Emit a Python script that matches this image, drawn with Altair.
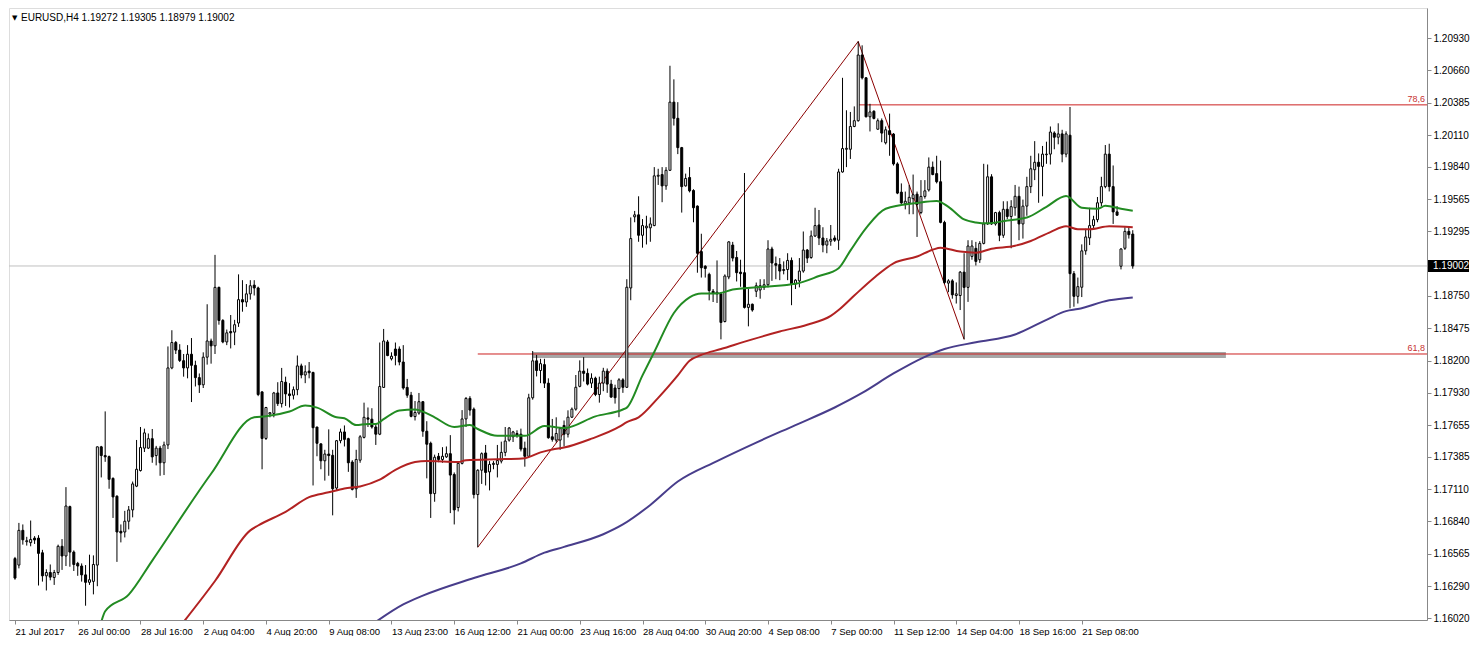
import altair as alt
import pandas as pd

# ---------------- data (EURUSD H4) ----------------
opens = [
    1.16525, 1.16470, 1.16764, 1.16668, 1.16660, 1.16698, 1.16698, 1.16574, 1.16379, 1.16407,
    1.16365, 1.16407, 1.16629, 1.16547, 1.16965, 1.16580, 1.16484, 1.16462, 1.16387, 1.16324,
    1.16332, 1.16470, 1.17471, 1.17397, 1.17388, 1.17204, 1.17053, 1.16756, 1.16750, 1.16841,
    1.16937, 1.17138, 1.17270, 1.17460, 1.17460, 1.17540, 1.17397, 1.17460, 1.17336, 1.17487,
    1.18139, 1.18354, 1.18290, 1.18200, 1.18139, 1.18255, 1.18161, 1.18057, 1.17996, 1.18230,
    1.18367, 1.18326, 1.18821, 1.18541, 1.18359, 1.18447, 1.18442, 1.18519, 1.18717, 1.18697,
    1.18766, 1.18840, 1.18816, 1.17936, 1.17542, 1.17749, 1.17754, 1.17927, 1.17837, 1.18018,
    1.17919, 1.17908, 1.17955, 1.18156, 1.18079, 1.18112, 1.18101, 1.17639, 1.17496, 1.17353,
    1.17410, 1.17399, 1.17122, 1.17523, 1.17597, 1.17540, 1.17342, 1.17116, 1.17358, 1.17551,
    1.17716, 1.17705, 1.17639, 1.17578, 1.17974, 1.18359, 1.18216, 1.18299, 1.18299, 1.18189,
    1.17974, 1.17908, 1.17727, 1.17757, 1.17853, 1.17603, 1.17501, 1.17075, 1.17391, 1.17364,
    1.17386, 1.17413, 1.17237, 1.16957, 1.17331, 1.17707, 1.17881, 1.17790, 1.17067, 1.17273,
    1.17419, 1.17259, 1.17322, 1.17322, 1.17350, 1.17424, 1.17528, 1.17556, 1.17584, 1.17578,
    1.17460, 1.17391, 1.17886, 1.18199, 1.18117, 1.18167, 1.18010, 1.17556, 1.17528, 1.17528,
    1.17652, 1.17578, 1.17722, 1.17790, 1.17983, 1.18112, 1.18093, 1.18010, 1.18052, 1.17914,
    1.18010, 1.18112, 1.18002, 1.17969, 1.17964, 1.18038, 1.17975, 1.18816, 1.19418, 1.19435,
    1.19262, 1.19325, 1.19325, 1.19344, 1.19762, 1.19776, 1.19680, 1.19812, 1.20389, 1.20252,
    1.20004, 1.19680, 1.19751, 1.19641, 1.19509, 1.19124, 1.19000, 1.18931, 1.18788, 1.18766,
    1.18766, 1.18532, 1.18909, 1.19179, 1.19074, 1.18950, 1.18945, 1.18651, 1.18678, 1.18788,
    1.18799, 1.18821, 1.18843, 1.19146, 1.19022, 1.19014, 1.18964, 1.18972, 1.19049, 1.18849,
    1.18876, 1.18959, 1.19137, 1.19074, 1.19256, 1.19349, 1.19239, 1.19179, 1.19212, 1.19239,
    1.19220, 1.19798, 1.19990, 1.19990, 1.20183, 1.20232, 1.20788, 1.20595, 1.20265, 1.20312,
    1.20160, 1.20232, 1.20045, 1.20147, 1.20119, 1.19866, 1.19627, 1.19528, 1.19536, 1.19572,
    1.19610, 1.19454, 1.19591, 1.19646, 1.19839, 1.19784, 1.19715, 1.19371, 1.18857, 1.18876,
    1.18752, 1.18752, 1.18950, 1.18821, 1.19083, 1.19151, 1.19055, 1.19193, 1.19358, 1.19757,
    1.19358, 1.19454, 1.19262, 1.19482, 1.19421, 1.19495, 1.19592, 1.19358, 1.19509, 1.19674,
    1.19817, 1.19880, 1.19845, 1.19944, 1.19949, 1.20128, 1.20092, 1.20120, 1.19949, 1.20109,
    1.18937, 1.18745, 1.18822, 1.19130, 1.19240, 1.19344, 1.19394, 1.19537, 1.19674, 1.19949,
    1.19674, 1.19460, 1.19000, 1.19152, 1.19295, 1.19272,
]
highs = [
    1.16539, 1.16827, 1.16814, 1.16709, 1.16847, 1.16715, 1.16723, 1.16599, 1.16434, 1.16475,
    1.16429, 1.16643, 1.16690, 1.17130, 1.16973, 1.16594, 1.16497, 1.16484, 1.16470, 1.16558,
    1.16552, 1.17474, 1.17479, 1.17771, 1.17397, 1.17212, 1.17061, 1.16814, 1.16929, 1.16970,
    1.17177, 1.17529, 1.17639, 1.17625, 1.17584, 1.17622, 1.17479, 1.17479, 1.17515, 1.18321,
    1.18458, 1.18367, 1.18340, 1.18257, 1.18332, 1.18392, 1.18200, 1.18092, 1.18271, 1.18678,
    1.18387, 1.19096, 1.18827, 1.18552, 1.18464, 1.18587, 1.18546, 1.18931, 1.18882, 1.18849,
    1.18882, 1.18882, 1.18827, 1.17941, 1.17809, 1.17762, 1.17936, 1.18018, 1.18139, 1.18065,
    1.18010, 1.17982, 1.18244, 1.18175, 1.18161, 1.18189, 1.18106, 1.17639, 1.17501, 1.17446,
    1.17619, 1.17446, 1.17529, 1.17625, 1.17652, 1.17548, 1.17358, 1.17446, 1.17570, 1.17845,
    1.17804, 1.17798, 1.17672, 1.18354, 1.18469, 1.18376, 1.18271, 1.18354, 1.18321, 1.18332,
    1.18046, 1.17936, 1.17859, 1.17927, 1.17859, 1.17688, 1.17515, 1.17405, 1.17419, 1.17468,
    1.17474, 1.17570, 1.17254, 1.17350, 1.17782, 1.17892, 1.17900, 1.17804, 1.17281, 1.17424,
    1.17487, 1.17350, 1.17350, 1.17487, 1.17515, 1.17639, 1.17639, 1.17606, 1.17611, 1.17625,
    1.17515, 1.17920, 1.18282, 1.18249, 1.18216, 1.18216, 1.18051, 1.17707, 1.17721, 1.17639,
    1.17694, 1.17780, 1.17804, 1.18079, 1.18203, 1.18230, 1.18134, 1.18093, 1.18065, 1.18065,
    1.18140, 1.18134, 1.18038, 1.17997, 1.18052, 1.18052, 1.18890, 1.19413, 1.19468, 1.19592,
    1.19399, 1.19427, 1.19413, 1.19839, 1.19825, 1.19839, 1.19839, 1.20697, 1.20582, 1.20389,
    1.20010, 1.19784, 1.19839, 1.19652, 1.19515, 1.19275, 1.19008, 1.18945, 1.18807, 1.19049,
    1.18780, 1.18931, 1.19212, 1.19206, 1.19129, 1.19055, 1.19789, 1.18807, 1.18684, 1.18862,
    1.18890, 1.18890, 1.19220, 1.19165, 1.19082, 1.19069, 1.19041, 1.19110, 1.19074, 1.18890,
    1.19069, 1.19294, 1.19146, 1.19302, 1.19495, 1.19476, 1.19330, 1.19239, 1.19349, 1.19261,
    1.19825, 1.20595, 1.20320, 1.20306, 1.20353, 1.20903, 1.20870, 1.20601, 1.20375, 1.20320,
    1.20251, 1.20251, 1.20183, 1.20292, 1.20127, 1.19880, 1.19701, 1.19632, 1.19688, 1.19776,
    1.19632, 1.19729, 1.19729, 1.19921, 1.19886, 1.19935, 1.19894, 1.19385, 1.18890, 1.18890,
    1.18863, 1.18959, 1.19110, 1.19220, 1.19220, 1.19206, 1.19212, 1.19867, 1.19861, 1.19779,
    1.19460, 1.19470, 1.19550, 1.19550, 1.19559, 1.19688, 1.19674, 1.19564, 1.19757, 1.19935,
    1.20059, 1.19955, 1.20018, 1.20054, 1.20183, 1.20142, 1.20210, 1.20155, 1.20142, 1.20348,
    1.18959, 1.18904, 1.19185, 1.19317, 1.19495, 1.19427, 1.19586, 1.19757, 1.20026, 1.20037,
    1.19853, 1.19509, 1.19152, 1.19330, 1.19330, 1.19305,
]
lows = [
    1.16346, 1.16442, 1.16643, 1.16635, 1.16629, 1.16649, 1.16297, 1.16330, 1.16255, 1.16341,
    1.16302, 1.16387, 1.16429, 1.16462, 1.16456, 1.16420, 1.16379, 1.16330, 1.16126, 1.16302,
    1.16222, 1.16291, 1.17212, 1.17344, 1.17116, 1.16869, 1.16497, 1.16662, 1.16704, 1.16772,
    1.16874, 1.17130, 1.17262, 1.17427, 1.17452, 1.17336, 1.17314, 1.17226, 1.17232, 1.17452,
    1.18128, 1.18257, 1.18189, 1.18065, 1.18051, 1.17850, 1.17982, 1.17927, 1.17969, 1.18167,
    1.18175, 1.18257, 1.18505, 1.18348, 1.18332, 1.18304, 1.18332, 1.18486, 1.18615, 1.18656,
    1.18717, 1.18752, 1.17900, 1.17281, 1.17529, 1.17721, 1.17721, 1.17817, 1.17804, 1.17817,
    1.17804, 1.17872, 1.17908, 1.18051, 1.18010, 1.18051, 1.17144, 1.17391, 1.17281, 1.17185,
    1.17226, 1.16891, 1.17102, 1.17501, 1.17474, 1.17259, 1.17102, 1.17039, 1.17336, 1.17542,
    1.17639, 1.17625, 1.17487, 1.17570, 1.17969, 1.18238, 1.18202, 1.18161, 1.18161, 1.17955,
    1.17886, 1.17721, 1.17694, 1.17743, 1.17556, 1.17204, 1.16869, 1.17006, 1.17341, 1.17336,
    1.17377, 1.16910, 1.16814, 1.16924, 1.17322, 1.17639, 1.17735, 1.17034, 1.16621, 1.17157,
    1.17144, 1.17102, 1.17281, 1.17212, 1.17331, 1.17391, 1.17515, 1.17512, 1.17548, 1.17432,
    1.17303, 1.17386, 1.17870, 1.18067, 1.18010, 1.17969, 1.17540, 1.17515, 1.17507, 1.17446,
    1.17474, 1.17550, 1.17715, 1.17777, 1.17975, 1.18024, 1.17991, 1.17969, 1.17900, 1.17845,
    1.17942, 1.17928, 1.17887, 1.17837, 1.17722, 1.17928, 1.17969, 1.18712, 1.19372, 1.19207,
    1.19157, 1.19184, 1.19207, 1.19339, 1.19688, 1.19542, 1.19647, 1.19806, 1.20191, 1.19949,
    1.19454, 1.19674, 1.19625, 1.19372, 1.18945, 1.18904, 1.18904, 1.18711, 1.18697, 1.18689,
    1.18381, 1.18524, 1.18890, 1.19041, 1.18871, 1.18826, 1.18642, 1.18491, 1.18615, 1.18739,
    1.18725, 1.18799, 1.18821, 1.18876, 1.18890, 1.18882, 1.18931, 1.18882, 1.18670, 1.18807,
    1.18821, 1.18945, 1.19027, 1.19063, 1.19247, 1.19179, 1.19118, 1.19110, 1.19173, 1.19206,
    1.19138, 1.19792, 1.19839, 1.19908, 1.20177, 1.20224, 1.20581, 1.20260, 1.20141, 1.20243,
    1.20155, 1.20050, 1.20031, 1.19935, 1.19852, 1.19610, 1.19528, 1.19481, 1.19440, 1.19440,
    1.19248, 1.19440, 1.19572, 1.19632, 1.19770, 1.19701, 1.19363, 1.18849, 1.18780, 1.18725,
    1.18684, 1.18629, 1.18381, 1.18698, 1.19055, 1.19006, 1.19028, 1.19185, 1.19350, 1.19350,
    1.19344, 1.19212, 1.19240, 1.19399, 1.19152, 1.19427, 1.19220, 1.19234, 1.19427, 1.19619,
    1.19729, 1.19537, 1.19592, 1.19867, 1.19861, 1.19990, 1.20032, 1.19880, 1.19922, 1.18643,
    1.18657, 1.18684, 1.18739, 1.19097, 1.19179, 1.19317, 1.19372, 1.19509, 1.19660, 1.19633,
    1.19358, 1.19427, 1.18973, 1.19138, 1.19234, 1.18979,
]
closes = [
    1.16360, 1.16764, 1.16684, 1.16676, 1.16687, 1.16682, 1.16569, 1.16379, 1.16407, 1.16368,
    1.16407, 1.16629, 1.16547, 1.16970, 1.16580, 1.16475, 1.16462, 1.16387, 1.16324, 1.16346,
    1.16475, 1.17471, 1.17397, 1.17386, 1.17196, 1.17047, 1.16750, 1.16742, 1.16841, 1.16937,
    1.17157, 1.17281, 1.17465, 1.17589, 1.17540, 1.17386, 1.17460, 1.17336, 1.17487, 1.18139,
    1.18354, 1.18290, 1.18202, 1.18139, 1.18255, 1.18161, 1.18057, 1.17996, 1.18230, 1.18367,
    1.18326, 1.18821, 1.18541, 1.18359, 1.18436, 1.18436, 1.18505, 1.18717, 1.18697, 1.18766,
    1.18835, 1.18816, 1.17914, 1.17542, 1.17804, 1.17760, 1.17927, 1.17837, 1.18024, 1.17919,
    1.17905, 1.17955, 1.18156, 1.18079, 1.18106, 1.18098, 1.17633, 1.17501, 1.17353, 1.17410,
    1.17397, 1.17116, 1.17523, 1.17597, 1.17534, 1.17336, 1.17111, 1.17364, 1.17556, 1.17721,
    1.17705, 1.17639, 1.17578, 1.17982, 1.18367, 1.18244, 1.18238, 1.18244, 1.18189, 1.17969,
    1.17908, 1.17729, 1.17762, 1.17853, 1.17603, 1.17493, 1.17075, 1.17383, 1.17364, 1.17391,
    1.17413, 1.17232, 1.16937, 1.17331, 1.17707, 1.17881, 1.17782, 1.17067, 1.17273, 1.17413,
    1.17254, 1.17322, 1.17331, 1.17355, 1.17424, 1.17520, 1.17630, 1.17597, 1.17570, 1.17452,
    1.17391, 1.17886, 1.18199, 1.18117, 1.18175, 1.18010, 1.17548, 1.17534, 1.17584, 1.17625,
    1.17578, 1.17722, 1.17790, 1.17975, 1.18112, 1.18093, 1.18002, 1.18052, 1.17914, 1.18010,
    1.18112, 1.18002, 1.17892, 1.17887, 1.18038, 1.17975, 1.18822, 1.19234, 1.19435, 1.19262,
    1.19344, 1.19339, 1.19358, 1.19765, 1.19770, 1.19680, 1.19812, 1.20389, 1.20252, 1.20004,
    1.19674, 1.19743, 1.19638, 1.19495, 1.19110, 1.18987, 1.18981, 1.18794, 1.18772, 1.18780,
    1.18524, 1.18917, 1.19206, 1.19069, 1.18945, 1.18937, 1.18651, 1.18678, 1.18629, 1.18835,
    1.18835, 1.18843, 1.19146, 1.19027, 1.19008, 1.18959, 1.18972, 1.19049, 1.18849, 1.18882,
    1.18959, 1.19137, 1.19069, 1.19256, 1.19344, 1.19239, 1.19179, 1.19214, 1.19228, 1.19220,
    1.19798, 1.19996, 1.19998, 1.20183, 1.20232, 1.20788, 1.20595, 1.20265, 1.20306, 1.20251,
    1.20232, 1.20127, 1.20155, 1.20114, 1.19866, 1.19619, 1.19536, 1.19550, 1.19583, 1.19605,
    1.19523, 1.19591, 1.19638, 1.19839, 1.19776, 1.19715, 1.19371, 1.18863, 1.18876, 1.18758,
    1.18766, 1.18950, 1.18821, 1.19171, 1.19171, 1.19041, 1.19193, 1.19358, 1.19757, 1.19358,
    1.19454, 1.19262, 1.19482, 1.19421, 1.19504, 1.19592, 1.19358, 1.19509, 1.19674, 1.19825,
    1.19880, 1.19845, 1.19949, 1.19949, 1.20136, 1.20092, 1.20120, 1.19949, 1.20120, 1.18937,
    1.18745, 1.18827, 1.19130, 1.19248, 1.19344, 1.19394, 1.19537, 1.19674, 1.19949, 1.19674,
    1.19460, 1.19432, 1.19146, 1.19295, 1.19267, 1.19002,
]

date_labels = ["21 Jul 2017", "26 Jul 00:00", "28 Jul 16:00", "2 Aug 04:00", "4 Aug 20:00",
               "9 Aug 08:00", "13 Aug 23:00", "16 Aug 12:00", "21 Aug 00:00", "23 Aug 16:00",
               "28 Aug 04:00", "30 Aug 20:00", "4 Sep 08:00", "7 Sep 00:00", "11 Sep 12:00",
               "14 Sep 04:00", "18 Sep 16:00", "21 Sep 08:00"]
label_bars = [0, 16, 32, 48, 64, 80, 96, 112, 128, 144, 160, 176, 192, 208, 224, 240, 256, 272]

price_ticks = [1.20930, 1.20660, 1.20385, 1.20110, 1.19840, 1.19565, 1.19295, 1.18750,
               1.18475, 1.18200, 1.17930, 1.17655, 1.17385, 1.17110, 1.16840, 1.16565,
               1.16290, 1.16020]

# moving averages (bar index, value)
ma_green_bars = [22, 23, 29, 35, 50, 61, 64, 70, 74, 77, 82, 84, 87, 90, 92, 94, 98, 102, 105,
                 107, 112, 116, 118, 123, 130, 135, 140, 148, 155, 156, 160, 163, 168, 172, 175,
                 179, 183, 191, 199, 205, 210, 213, 217, 222, 230, 235, 238, 242, 245, 248, 253,
                 258, 263, 268, 272, 276, 278, 282, 285]
ma_green_vals = [1.15989, 1.16079, 1.16220, 1.16508, 1.17243, 1.17721, 1.17729, 1.17770, 1.17820,
                 1.17803, 1.17721, 1.17713, 1.17655, 1.17664, 1.17664, 1.17705, 1.17779, 1.17787,
                 1.17754, 1.17721, 1.17639, 1.17655, 1.17622, 1.17564, 1.17564, 1.17647, 1.17630,
                 1.17729, 1.17787, 1.17803, 1.18076, 1.18274, 1.18604, 1.18736, 1.18769, 1.18769,
                 1.18802, 1.18827, 1.18851, 1.18917, 1.18983, 1.19132, 1.19322, 1.19487, 1.19536,
                 1.19553, 1.19503, 1.19396, 1.19371, 1.19363, 1.19388, 1.19412, 1.19503, 1.19594,
                 1.19495, 1.19487, 1.19511, 1.19487, 1.19470]
ma_red_bars = [43, 51, 60, 62, 69, 75, 80, 84, 88, 93, 97, 102, 105, 113, 115, 125, 130, 134,
               137, 140, 147, 154, 156, 159, 164, 169, 172, 175, 180, 188, 195, 202, 208, 210,
               214, 219, 224, 230, 234, 236, 241, 245, 249, 255, 259, 264, 268, 271, 274, 279,
               285]
ma_red_vals = [1.15989, 1.16335, 1.16764, 1.16805, 1.16921, 1.17045, 1.17086, 1.17119, 1.17136,
               1.17193, 1.17276, 1.17342, 1.17350, 1.17342, 1.17358, 1.17367, 1.17375, 1.17424,
               1.17449, 1.17465, 1.17540, 1.17639, 1.17680, 1.17721, 1.17886, 1.18076, 1.18200,
               1.18249, 1.18299, 1.18381, 1.18447, 1.18505, 1.18579, 1.18629, 1.18752, 1.18901,
               1.19025, 1.19082, 1.19140, 1.19157, 1.19124, 1.19115, 1.19148, 1.19173, 1.19214,
               1.19289, 1.19338, 1.19313, 1.19313, 1.19338, 1.19330]
ma_navy_bars = [92, 99, 104, 117, 129, 135, 140, 150, 155, 162, 169, 179, 189, 199, 209, 216,
                224, 232, 237, 245, 255, 263, 268, 271, 279, 285]
ma_navy_vals = [1.15989, 1.16137, 1.16211, 1.16360, 1.16484, 1.16575, 1.16624, 1.16731, 1.16814,
                1.16979, 1.17177, 1.17350, 1.17507, 1.17655, 1.17804, 1.17927, 1.18092, 1.18233,
                1.18299, 1.18356, 1.18422, 1.18546, 1.18620, 1.18637, 1.18711, 1.18736]

# Fibonacci drawings
fib_seg_ids = ["a", "a", "b", "b"]
fib_seg_bars = [118, 215, 215, 242]
fib_seg_prices = [1.16621, 1.20903, 1.20903, 1.18381]
fib_level_names = ["78,6", "61,8"]
fib_level_prices = [1.20366, 1.18257]
fib_level_starts = [215, 118]
zone_start, zone_end = 132, 308.75
zone_top, zone_bottom = 1.18274, 1.18222
bid_price = closes[-1]

# ---------------- chart ----------------
W, H = 1418, 612
xs = alt.Scale(domain=[-0.25, 358.75], nice=False, zero=False)
ys = alt.Scale(domain=[1.16005, 1.21186], nice=False, zero=False)

lab_js = "[" + ",".join("'" + s + "'" for s in date_labels) + "]"
x_axis = alt.Axis(values=label_bars, labelExpr=lab_js + "[round(datum.value / 16)]",
                  labelAlign="left", labelPadding=2, tickSize=4, labelFontSize=9.5,
                  labelOverlap=False, grid=False, title=None, orient="bottom")
y_axis = alt.Axis(values=price_ticks, format=".5f", orient="right", tickSize=4,
                  labelPadding=2, labelFontSize=10, labelOverlap=False, grid=False, title=None)


def X(field):
    return alt.X(field, type="quantitative", scale=xs, axis=x_axis)


def Y(field):
    return alt.Y(field, type="quantitative", scale=ys, axis=y_axis)


candles = pd.DataFrame({"bar": list(range(len(opens))), "open": opens, "high": highs,
                        "low": lows, "close": closes})
up = candles[candles["close"] >= candles["open"]]
down = candles[candles["close"] < candles["open"]]

zone_df = pd.DataFrame({"x0": [zone_start], "x1": [zone_end], "top": [zone_top],
                        "bottom": [zone_bottom]})
lvl_df = pd.DataFrame({"price": fib_level_prices, "start": fib_level_starts,
                       "label": fib_level_names})
seg_df = pd.DataFrame({"seg": fib_seg_ids, "bar": fib_seg_bars, "price": fib_seg_prices})
bid_df = pd.DataFrame({"price": [bid_price], "txt": [f"{bid_price:.5f}"]})
green_df = pd.DataFrame({"bar": ma_green_bars, "v": ma_green_vals})
red_df = pd.DataFrame({"bar": ma_red_bars, "v": ma_red_vals})
navy_df = pd.DataFrame({"bar": ma_navy_bars, "v": ma_navy_vals})
title_df = pd.DataFrame({"t": [f"EURUSD,H4  {opens[-1]:.5f} {highs[-1]:.5f} {lows[-1]:.5f} {closes[-1]:.5f}"],
                         "tri": ["\u25bc"]})

zone = alt.Chart(zone_df).mark_rect(color="#a6a6a6").encode(
    x=X("x0"), x2=alt.X2("x1"), y=Y("top"), y2=alt.Y2("bottom"))
levels = alt.Chart(lvl_df).mark_rule(color="#cc2020", strokeWidth=1).encode(
    x=X("start"), x2=alt.value(W), y=Y("price"))
level_txt = alt.Chart(lvl_df).mark_text(align="right", baseline="bottom", dy=-1, fontSize=9,
                                        color="#c83232", font="Liberation Sans").encode(
    x=alt.value(W - 2), y=Y("price"), text="label:N")
bid_line = alt.Chart(bid_df).mark_rule(color="#c0c0c0", strokeWidth=1).encode(
    x=alt.value(0), x2=alt.value(W), y=Y("price"))
diag = alt.Chart(seg_df).mark_line(color="#8b0000", strokeWidth=1).encode(
    x=X("bar"), y=Y("price"), detail="seg:N")
wicks = alt.Chart(candles).mark_rule(color="black", strokeWidth=1).encode(
    x=X("bar"), y=Y("low"), y2=alt.Y2("high"))
up_bodies = alt.Chart(up).mark_bar(width=2, fill="white", stroke="black", strokeWidth=1,
                                   orient="vertical").encode(
    x=X("bar"), y=Y("open"), y2=alt.Y2("close"))
down_bodies = alt.Chart(down).mark_bar(width=2, fill="black", stroke="black", strokeWidth=1,
                                       orient="vertical").encode(
    x=X("bar"), y=Y("open"), y2=alt.Y2("close"))
green = alt.Chart(green_df).mark_line(color="#228b22", strokeWidth=2, clip=True,
                                      interpolate="monotone").encode(x=X("bar"), y=Y("v"))
red = alt.Chart(red_df).mark_line(color="#b22222", strokeWidth=2, clip=True,
                                  interpolate="monotone").encode(x=X("bar"), y=Y("v"))
navy = alt.Chart(navy_df).mark_line(color="#483d8b", strokeWidth=2, clip=True,
                                    interpolate="monotone").encode(x=X("bar"), y=Y("v"))
bid_box = alt.Chart(bid_df).mark_point(
    shape="M0,-0.6 L4.1,-0.6 L4.1,0.6 L0,0.6 Z", size=400, filled=True, color="black",
    opacity=1, strokeWidth=0).encode(x=alt.value(W + 1), y=Y("price"))
bid_txt = alt.Chart(bid_df).mark_text(align="left", baseline="middle", color="white",
                                      fontSize=10, font="Liberation Sans").encode(
    x=alt.value(W + 6), y=Y("price"), text="txt:N")
title_tri = alt.Chart(title_df).mark_text(align="left", baseline="middle", fontSize=7,
                                          font="DejaVu Sans", color="black").encode(
    x=alt.value(3), y=alt.value(10), text="tri:N")
title_txt = alt.Chart(title_df).mark_text(align="left", baseline="middle", fontSize=10,
                                          font="Liberation Sans", color="black").encode(
    x=alt.value(12), y=alt.value(10), text="t:N")

chart = alt.layer(
    zone, levels, bid_line, diag, wicks, up_bodies, down_bodies, green, red, navy,
    level_txt, bid_box, bid_txt, title_tri, title_txt
).properties(
    width=W, height=H, padding={"left": 0, "top": 0, "right": 0, "bottom": 0}
).configure_view(
    stroke="black", strokeWidth=1
).configure_axis(
    labelFont="Liberation Sans", labelColor="black", tickColor="black", domainColor="black"
).configure(background="white")

chart.save("out.html", embed_options={"renderer": "svg", "actions": False})
